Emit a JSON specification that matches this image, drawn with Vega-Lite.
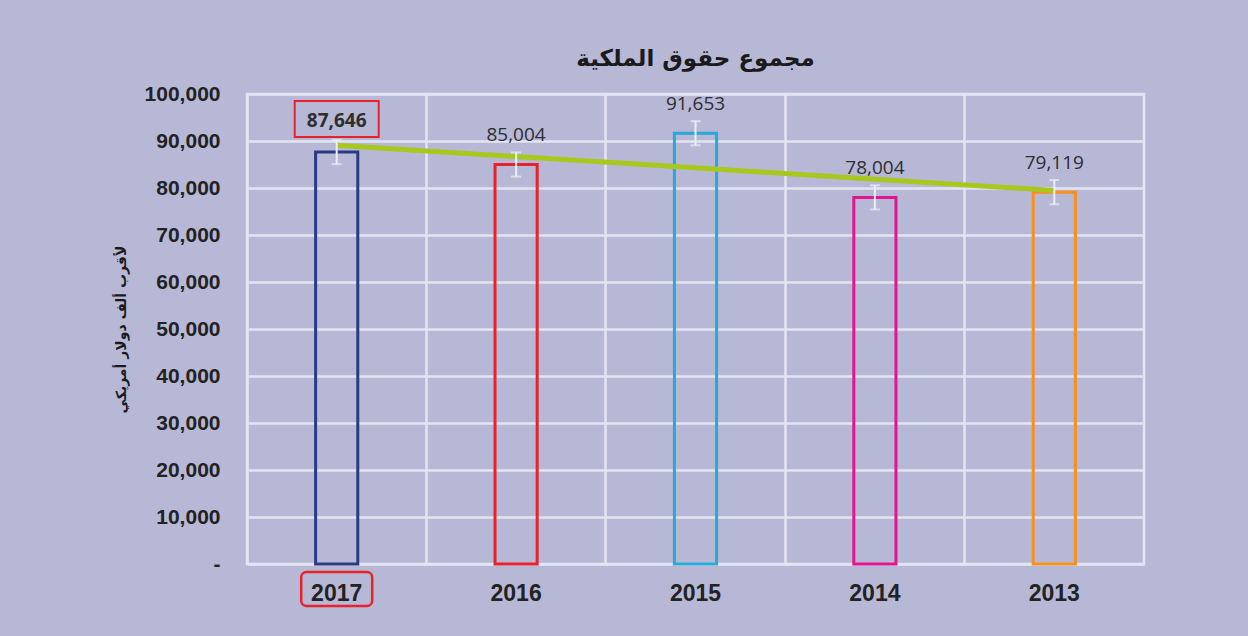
{
  "$schema": "https://vega.github.io/schema/vega-lite/v6.json",
  "width": 897,
  "height": 470,
  "autosize": {"type": "none"},
  "padding": {"left": 247, "top": 94, "right": 104, "bottom": 72},
  "background": "#b6b8d6",
  "config": {
    "view": {"stroke": "#e4e5f2", "strokeWidth": 2.5},
    "axis": {"gridColor": "#e4e5f2", "gridWidth": 2.5, "gridOpacity": 1, "domain": false, "ticks": false, "tickSize": 0}
  },
  "title": {
    "text": "مجموع حقوق الملكية",
    "font": "DejaVu Sans",
    "fontSize": 23,
    "fontWeight": "bold",
    "color": "#1a1a1a",
    "anchor": "middle",
    "offset": 12
  },
  "data": {
    "values": [
      {"year": "2017", "value": 87646, "lo": 85075, "hi": 90217, "trend": 89096},
      {"year": "2016", "value": 85004, "lo": 82433, "hi": 87575, "trend": 86691},
      {"year": "2015", "value": 91653, "lo": 89082, "hi": 94224, "trend": 84285},
      {"year": "2014", "value": 78004, "lo": 75433, "hi": 80575, "trend": 81880},
      {"year": "2013", "value": 79119, "lo": 76548, "hi": 81690, "trend": 79474}
    ]
  },
  "encoding": {
    "x": {
      "field": "year",
      "type": "nominal",
      "sort": null,
      "scale": {"domain": ["2017", "2016", "2015", "2014", "2013"], "paddingInner": 0, "paddingOuter": 0},
      "axis": {
        "title": null,
        "labelAngle": 0,
        "labelFont": "Liberation Sans",
        "labelFontSize": 23,
        "labelFontWeight": "bold",
        "labelColor": "#222222",
        "labelPadding": 18,
        "grid": true,
        "bandPosition": 0
      }
    }
  },
  "layer": [
    {
      "mark": {"type": "bar", "fillOpacity": 0, "width": {"band": 0.235}},
      "encoding": {
        "y": {
          "field": "value",
          "type": "quantitative",
          "scale": {"domain": [0, 100000], "nice": false},
          "axis": {
            "title": "لأقرب ألف دولار أمريكي",
            "titleFont": "DejaVu Sans",
            "titleFontSize": 14,
            "titleFontWeight": "bold",
            "titleColor": "#1a1a1a",
            "titlePadding": 16,
            "values": [0, 10000, 20000, 30000, 40000, 50000, 60000, 70000, 80000, 90000, 100000],
            "labelExpr": "datum.value == 0 ? '-\u2007' : format(datum.value, ',')",
            "labelFont": "Liberation Sans",
            "labelFontSize": 21,
            "labelFontWeight": "bold",
            "labelColor": "#222222",
            "labelPadding": 27,
            "grid": true
          }
        },
        "stroke": {
          "field": "year",
          "type": "nominal",
          "scale": {"domain": ["2017", "2016", "2015", "2014", "2013"], "range": ["#2b3a82", "#e8212b", "#27a9d9", "#e4148c", "#f7901e"]},
          "legend": null
        },
        "strokeWidth": {
          "field": "year",
          "type": "nominal",
          "scale": {"domain": ["2017", "2016", "2015", "2014", "2013"], "range": [3, 3, 1.5, 3, 2]},
          "legend": null
        }
      }
    },
    {
      "mark": {"type": "line", "color": "#a9c81e", "strokeWidth": 5},
      "encoding": {"y": {"field": "trend", "type": "quantitative"}}
    },
    {
      "mark": {"type": "rule", "color": "#ecedf6", "strokeWidth": 2},
      "encoding": {"y": {"field": "lo", "type": "quantitative"}, "y2": {"field": "hi"}}
    },
    {
      "mark": {"type": "tick", "orient": "horizontal", "color": "#ecedf6", "thickness": 2, "size": 10},
      "encoding": {"y": {"field": "lo", "type": "quantitative"}}
    },
    {
      "mark": {"type": "tick", "orient": "horizontal", "color": "#ecedf6", "thickness": 2, "size": 10},
      "encoding": {"y": {"field": "hi", "type": "quantitative"}}
    },
    {
      "transform": [{"filter": "datum.year != '2017'"}],
      "mark": {"type": "text", "font": "Open Sans", "fontSize": 19, "color": "#2e2e2e", "baseline": "middle", "dy": -29},
      "encoding": {"y": {"field": "value", "type": "quantitative"}, "text": {"field": "value", "type": "quantitative", "format": ","}}
    },
    {
      "transform": [{"filter": "datum.year == '2017'"}],
      "mark": {"type": "text", "font": "Open Sans", "fontSize": 19, "fontWeight": "bold", "color": "#2e2e2e", "baseline": "middle", "dy": -31},
      "encoding": {"y": {"field": "value", "type": "quantitative"}, "text": {"field": "value", "type": "quantitative", "format": ","}}
    },
    {
      "transform": [{"filter": "datum.year == '2017'"}],
      "mark": {"type": "point", "shape": "M-1,-0.43H1V0.43H-1Z", "filled": false, "color": "#e8212b", "strokeWidth": 2, "size": 7056, "opacity": 1, "yOffset": -33},
      "encoding": {"y": {"field": "value", "type": "quantitative"}}
    },
    {
      "transform": [{"filter": "datum.year == '2017'"}],
      "mark": {"type": "point", "shape": "M-0.85,-0.48H0.85A0.15,0.15 0 0 1 1,-0.33V0.33A0.15,0.15 0 0 1 0.85,0.48H-0.85A0.15,0.15 0 0 1 -1,0.33V-0.33A0.15,0.15 0 0 1 -0.85,-0.48Z", "filled": false, "color": "#e8212b", "strokeWidth": 2.5, "size": 5041, "opacity": 1, "yOffset": 25},
      "encoding": {"y": {"datum": 0, "type": "quantitative"}}
    }
  ]
}
